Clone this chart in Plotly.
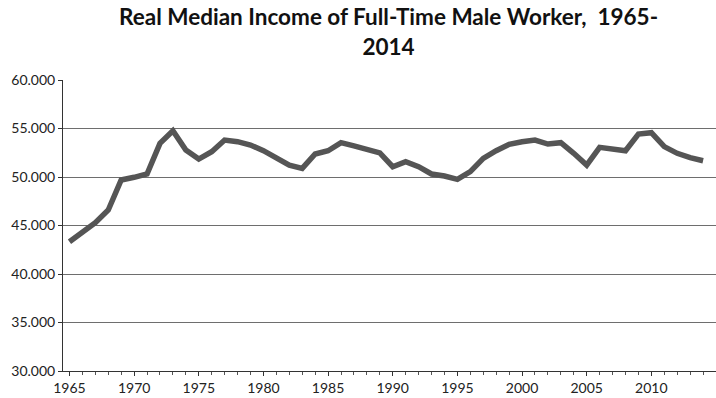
import plotly.graph_objects as go

years = list(range(1965, 2015))
income = [43330, 44360, 45290, 46600, 49690, 49970, 50310, 53470, 54770, 52780,
          51850, 52610, 53810, 53640, 53300, 52710, 51920, 51230, 50890, 52370,
          52710, 53540, 53200, 52780, 52480, 51060, 51580, 51060, 50310, 50100,
          49760, 50550, 51920, 52710, 53370, 53640, 53810, 53400, 53540, 52440,
          51230, 53060, 52950, 52710, 54430, 54570, 53130, 52440, 51990, 51680]

y_ticks = [30000, 35000, 40000, 45000, 50000, 55000, 60000]
y_tick_text = ["30.000", "35.000", "40.000", "45.000", "50.000", "55.000", "60.000"]
x_ticks = [1965, 1970, 1975, 1980, 1985, 1990, 1995, 2000, 2005, 2010]
title_text = "Real Median Income of Full-Time Male Worker,  1965-<br>2014"

fig = go.Figure()
fig.add_trace(go.Scatter(x=years, y=income, mode="lines",
                         line=dict(color="#555555", width=5.5),
                         hoverinfo="x+y"))

fig.update_layout(
    width=716, height=398,
    margin=dict(l=63, r=0, t=80, b=27),
    paper_bgcolor="white", plot_bgcolor="white",
    showlegend=False,
    title=dict(text=title_text, x=0.5427, xanchor="center", y=0.936, yanchor="middle",
               font=dict(family="Lato", size=22.5, color="#111111", weight="bold")),
    font=dict(family="Lato", size=14, color="#222222"),
)
fig.update_xaxes(range=[1964.5, 2015], tickvals=x_ticks, ticktext=[str(v) for v in x_ticks],
                 showgrid=False, showline=True, linecolor="#333333", linewidth=1,
                 ticks="outside", ticklen=4, tickcolor="#333333",
                 minor=dict(dtick=1, tick0=1965, ticks="outside", ticklen=3, tickcolor="#555555"),
                 zeroline=False)
fig.update_yaxes(range=[30000, 60000], tickvals=y_ticks, ticktext=y_tick_text,
                 showgrid=True, gridcolor="#6e6e6e", gridwidth=1,
                 showline=True, linecolor="#333333", linewidth=1,
                 ticks="outside", ticklen=4, tickcolor="#333333", zeroline=False)

fig.write_html("out.html")
